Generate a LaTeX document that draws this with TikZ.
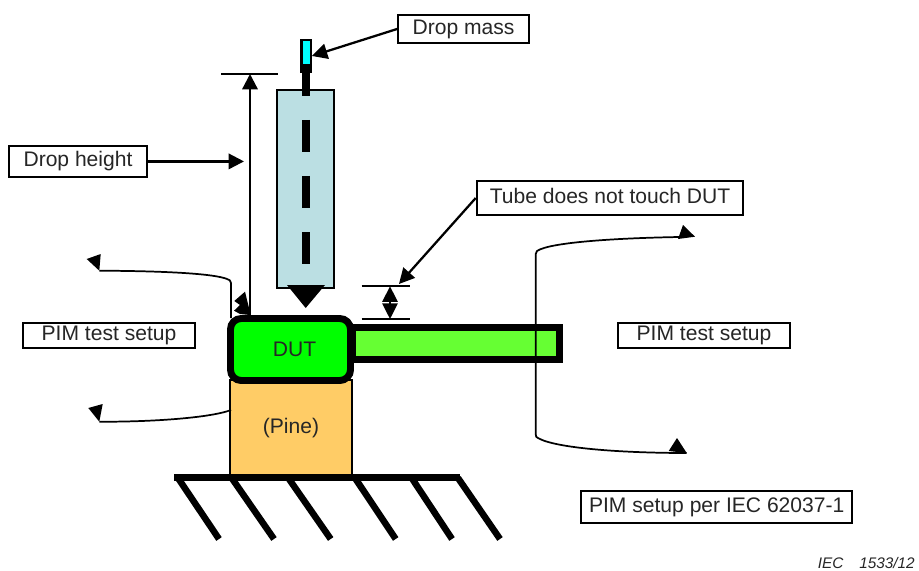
\documentclass[tikz,border=0pt]{standalone}
\usepackage{fontspec}
\setmainfont{Liberation Sans}
\usetikzlibrary{arrows.meta}
\definecolor{tubeblue}{HTML}{BBDFE3}
\definecolor{masscyan}{HTML}{00FFFF}
\definecolor{pineorange}{HTML}{FFCC66}
\definecolor{dutgreen}{HTML}{00FF00}
\definecolor{bargreen}{HTML}{66FF33}
\definecolor{textgrey}{HTML}{262626}
\newcommand{\lift}[2]{\raisebox{#1}{#2}}

\begin{document}
\begin{tikzpicture}[
    x=0.75pt, y=-0.75pt,
    font=\fontsize{15.8}{18}\selectfont,
    every node/.style={text=textgrey},
    lbl/.style={draw=black, line width=1.4pt, fill=white, inner sep=0pt, align=center},
    part/.style={draw=black, line width=1.3pt, inner sep=0pt},
    conn/.style={-{Triangle[length=11.5pt, width=11.5pt]}, line width=1.7pt, black},
    dim/.style={line width=1.3pt, black},
    lead/.style={line width=1.3pt, black},
    wedge/.style={fill=black},
    ground/.style={line width=4.9pt, black}
  ]
    \useasboundingbox (0,0) rectangle (919,570);
    % labels
    \node[lbl, minimum width=98.25pt, minimum height=21pt] (dropmass) at (463.5,29) {Drop mass};
    \node[lbl, minimum width=104pt, minimum height=23.5pt] (dropheight) at (78,161.4) {Drop height};
    \node[lbl, minimum width=200pt, minimum height=25.7pt] (tubenote) at (610,198) {\lift{3pt}{Tube does not touch DUT}};
    \node[lbl, minimum width=129pt, minimum height=19.2pt] (pimleft) at (109,335.5) {\lift{-0.7pt}{PIM test setup}};
    \node[lbl, minimum width=129pt, minimum height=19.2pt] (pimright) at (704,335.5) {\lift{-0.7pt}{PIM test setup}};
    \node[lbl, minimum width=203pt, minimum height=24pt] (pimiec) at (716.7,507.4) {\lift{1pt}{PIM setup per IEC 62037-1}};
    \node[anchor=east, inner sep=0pt, font=\fontsize{11.5}{14}\selectfont\itshape] (figno) at (915,563) {IEC\hspace{12pt}1533/12};
    % tube
    \node[part, fill=tubeblue, minimum width=42.75pt, minimum height=148.5pt] (tube) at (305.8,189) {};
    \node[part, fill=masscyan, line width=1.6pt, minimum width=7pt, minimum height=24pt] (mass) at (306.2,56) {};
    \draw[line width=6pt, black, dash pattern=on 24pt off 18pt] (306,64) -- (306,264);
    \fill[wedge] (287,285) -- (325,285) -- (305.7,308) -- cycle;
    % bar, pine, DUT
    \node[part, fill=bargreen, line width=4.9pt, minimum width=155pt, minimum height=24pt] (bar) at (456.2,343.5) {};
    \node[part, fill=pineorange, minimum width=91pt, minimum height=71.5pt] (pine) at (291,428) {(Pine)};
    \node[part, fill=dutgreen, line width=5.2pt, rounded corners=8pt, minimum width=90pt, minimum height=46.5pt] (dut) at (290.5,349.5) {\hspace{6pt}DUT};
    % drop height
    \coordinate (htop) at (250,74);
    \coordinate (hbot) at (250,315);
    \coordinate (hmid) at (244,161.4);
    \draw[dim] (221,74) -- (278,74);
    \draw[conn] (hbot) -- (htop);
    \draw[conn] (dropheight.east) -- (hmid);
    \fill[wedge] (245,291.7) -- (248.7,306.7) -- (hbot) -- (240,314) -- (234,310.7) -- (240,305) -- (234.3,301) -- cycle;
    \draw[conn] (dropmass.west) -- (mass.east);
    % gap
    \coordinate (gaptop) at (390,286.3);
    \coordinate (gapbot) at (390,319);
    \coordinate (gapnote) at (399,284);
    \draw[dim] (361.7,286.3) -- (409.7,286.3);
    \draw[dim] (361.7,319) -- (409.7,319);
    \draw[{Triangle[length=11.7pt, width=11.5pt]}-{Triangle[length=11.7pt, width=11.5pt]}, line width=1.3pt] (gaptop) -- (gapbot);
    \draw[conn] (tubenote.west) -- (gapnote);
    % PIM leads left
    \coordinate (llta) at (99.3,270.7);
    \coordinate (llba) at (99.3,421.7);
    \draw[lead] (llta) .. controls (170,271) and (215,274) .. (227,279) .. controls (230,280) .. (231,283) -- (231,318);
    \draw[lead] (231,410) .. controls (210,418) and (150,422) .. (llba);
    \fill[wedge] (86.7,259) -- (100.7,254) -- (llta) -- cycle;
    \fill[wedge] (88.3,408) -- (102.7,404) -- (llba) -- cycle;
    % PIM leads right
    \coordinate (lrta) at (680,237);
    \coordinate (lrba) at (686.7,453);
    \draw[lead] (lrta) .. controls (620,238) and (550,242) .. (537,251) .. controls (536,252) .. (535.7,254) -- (535.7,434)
      .. controls (536,437) .. (538,438) .. controls (555,448) and (620,453) .. (lrba);
    \fill[wedge] (695,236.7) -- (683,225) -- (678,239) -- cycle;
    \fill[wedge] (677,438) -- (668.7,451) -- (lrba) -- cycle;
    % ground
    \draw[ground] (174,477.7) -- (460,477.7);
    \foreach \xa/\xb in {178/219, 231.7/274, 288.3/330.7, 355/395.7, 411.7/452, 458/500}
      \draw[ground] (\xa,478) -- (\xb,539);
\end{tikzpicture}
\end{document}
